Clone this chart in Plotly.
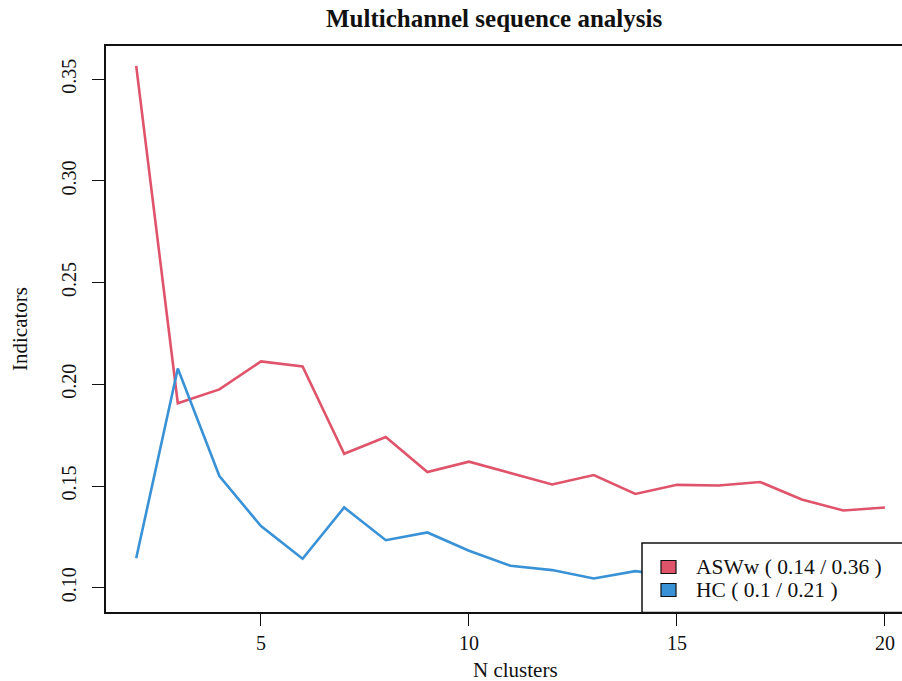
import plotly.graph_objects as go

n_clusters = list(range(2, 21))
asww = [0.3565, 0.1907, 0.1975, 0.2113, 0.2088, 0.1659, 0.1741, 0.1569, 0.1620,
        0.1565, 0.1508, 0.1554, 0.1461, 0.1506, 0.1503, 0.1520, 0.1434, 0.1380, 0.1395]
hc = [0.1145, 0.2078, 0.1549, 0.1303, 0.1143, 0.1395, 0.1234, 0.1272, 0.1182,
      0.1108, 0.1087, 0.1046, 0.1082, 0.1055, 0.1030, 0.1010, 0.1000, 0.0984, 0.0990]
series_names = ["ASWw", "HC"]
series_colors = ["#DF536B", "#3A92D6"]
x_ticks = [5, 10, 15, 20]
y_ticks = [0.10, 0.15, 0.20, 0.25, 0.30, 0.35]
y_tick_labels = ["0.10", "0.15", "0.20", "0.25", "0.30", "0.35"]

W, H = 902, 681
L, T, B = 106, 46, 69
PW, PH = W - L, H - T - B
font_family = "Liberation Serif, DejaVu Serif, serif"

fig = go.Figure()
for name, vals, col in zip(series_names, [asww, hc], series_colors):
    fig.add_trace(go.Scatter(x=n_clusters, y=vals, mode="lines", name=name,
                             line=dict(color=col, width=2.6), showlegend=False))

fig.update_layout(
    width=W, height=H,
    margin=dict(l=L, r=0, t=T, b=B, pad=0),
    paper_bgcolor="white", plot_bgcolor="white",
    font=dict(family=font_family, size=20, color="#111"),
    xaxis=dict(range=[1.274, 20.41], tickvals=x_ticks, ticks="outside", ticklen=12,
               tickwidth=1.3, tickcolor="#111", showline=True, linecolor="#111",
               linewidth=1.5, mirror=True, showgrid=False, zeroline=False,
               tickfont=dict(size=20), ticklabelstandoff=0),
    yaxis=dict(range=[0.0881, 0.3663], tickvals=y_ticks, ticktext=y_tick_labels,
               ticks="outside", ticklen=12, tickwidth=1.3, tickcolor="#111",
               showline=True, linecolor="#111", linewidth=1.5, mirror=False,
               showgrid=False, zeroline=False, tickangle=-90,
               tickfont=dict(size=20), ticklabelstandoff=8),
)

def px_x(p):
    return (p - L) / PW

def px_y(p):
    return 1 - (p - T) / PH

annotations = [
    dict(text="<b>Multichannel sequence analysis</b>", x=px_x(494), y=px_y(18),
         xref="paper", yref="paper", showarrow=False, xanchor="center", yanchor="middle",
         font=dict(size=25, family=font_family, color="#111")),
    dict(text="N clusters", x=px_x(515), y=px_y(670), xref="paper", yref="paper",
         showarrow=False, xanchor="center", yanchor="middle",
         font=dict(size=21, family=font_family, color="#111")),
    dict(text="Indicators", x=px_x(20), y=px_y(329), xref="paper", yref="paper",
         showarrow=False, xanchor="center", yanchor="middle", textangle=-90,
         font=dict(size=21, family=font_family, color="#111")),
]

legend_labels = ["ASWw ( 0.14 / 0.36 )", "HC ( 0.1 / 0.21 )"]
legend_rows = [567, 590]
shapes = [
    dict(type="rect", xref="paper", yref="paper", x0=px_x(642), x1=px_x(905),
         y0=px_y(612.5), y1=px_y(543), fillcolor="white",
         line=dict(color="#111", width=1.5), layer="above"),
]
for lab, row, col in zip(legend_labels, legend_rows, series_colors):
    shapes.append(dict(type="rect", xref="paper", yref="paper", x0=px_x(661), x1=px_x(676),
                       y0=px_y(row + 6.5), y1=px_y(row - 6.5), fillcolor=col,
                       line=dict(color="#111", width=1.2), layer="above"))
    annotations.append(dict(text=lab, x=px_x(694), y=px_y(row), xref="paper", yref="paper",
                            showarrow=False, xanchor="left", yanchor="middle",
                            font=dict(size=21.5, family=font_family, color="#111")))

fig.update_layout(annotations=annotations, shapes=shapes)
fig.write_html("out.html")
